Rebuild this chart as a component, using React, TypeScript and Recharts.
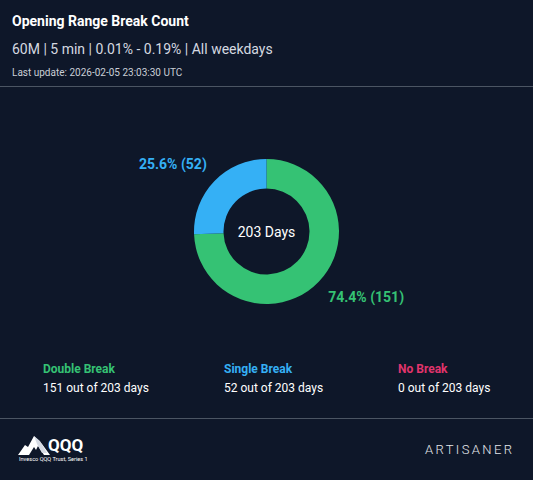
import { Cell, Pie, PieChart } from "recharts";

const categories = ["Double Break", "Single Break", "No Break"];
const dayCounts = [151, 52, 0];
const sliceColors = ["#35c274", "#35b0f5", "#e0346c"];
const totalDays = 203;

const subtitle = "60M | 5 min | 0.01% - 0.19% | All weekdays";
const lastUpdate = "Last update: 2026-02-05 23:03:30 UTC";

const BG = "#0e1729";
const FONT = "Roboto, 'Noto Sans', sans-serif";

const pieData = categories
  .map((name, i) => ({ name, value: dayCounts[i], color: sliceColors[i] }))
  .filter((d) => d.value > 0);

// labels sit a bit tighter to the ring than the recharts default
function renderLabel(props: any) {
  const { x, y, textAnchor, percent, value, payload } = props;
  const isEnd = textAnchor === "end";
  return (
    <text
      x={isEnd ? x + 7 : x - 5}
      y={isEnd ? y - 3 : y + 1}
      textAnchor={textAnchor}
      dominantBaseline="central"
      fill={payload.color}
      fontSize={14}
      fontWeight={700}
      fontFamily={FONT}
    >
      {`${(percent * 100).toFixed(1)}% (${value})`}
    </text>
  );
}

function QqqLogo() {
  return (
    <svg width={90} height={36} style={{ position: "absolute", left: 17, top: 431 }}>
      <polygon points="1,24 8,14 11,16 17,5 25,13 33,24 27,24 21,15 19,19 17,16 12,24" fill="#ffffff" />
      <polygon points="17,5 23,10 30,22 25,22 20,13" fill="#d6dbe4" />
      <text x={31} y={20} fill="#ffffff" fontSize={17} fontWeight={700} fontFamily={FONT}>
        QQQ
      </text>
      <text x={2} y={30} fill="#ffffff" fontSize={5.6} fontFamily={FONT}>
        Invesco QQQ Trust, Series 1
      </text>
    </svg>
  );
}

export default function App() {
  return (
    <div
      style={{
        position: "fixed",
        left: 0,
        top: 0,
        width: 533,
        height: 480,
        background: BG,
        fontFamily: FONT,
        color: "#ffffff",
        overflow: "hidden",
      }}
    >
      <div style={{ position: "absolute", left: 12, top: 13, fontSize: 14, fontWeight: 700 }}>
        Opening Range Break Count
      </div>
      <div style={{ position: "absolute", left: 12, top: 41, fontSize: 14, color: "#d5d9e0" }}>
        {subtitle}
      </div>
      <div style={{ position: "absolute", left: 12, top: 67, fontSize: 10, color: "#c9ced6" }}>
        {lastUpdate}
      </div>
      <div style={{ position: "absolute", left: 0, top: 86, width: 533, height: 1, background: "#4b5563" }} />

      <div style={{ position: "absolute", left: 0, top: 100 }}>
        <PieChart width={533} height={260} margin={{ top: 0, right: 0, bottom: 0, left: 0 }}>
          <Pie
            data={pieData}
            dataKey="value"
            nameKey="name"
            cx={266.5}
            cy={131.5}
            innerRadius={43}
            outerRadius={72.5}
            startAngle={90}
            endAngle={-270}
            stroke="none"
            label={renderLabel}
            labelLine={false}
            isAnimationActive={false}
          >
            {pieData.map((d) => (
              <Cell key={d.name} fill={d.color} />
            ))}
          </Pie>
          <text
            x={266.5}
            y={131.5}
            textAnchor="middle"
            dominantBaseline="central"
            fill="#ffffff"
            fontSize={14}
            fontFamily={FONT}
          >
            {`${totalDays} Days`}
          </text>
        </PieChart>
      </div>

      {categories.map((name, i) => (
        <div key={name} style={{ position: "absolute", left: [43, 224, 398][i], top: 362 }}>
          <div style={{ fontSize: 12, fontWeight: 700, color: sliceColors[i] }}>{name}</div>
          <div style={{ fontSize: 12, marginTop: 5, color: "#ffffff" }}>
            {`${dayCounts[i]} out of ${totalDays} days`}
          </div>
        </div>
      ))}

      <div style={{ position: "absolute", left: 0, top: 418, width: 533, height: 1, background: "#4b5563" }} />
      <QqqLogo />
      <div
        style={{
          position: "absolute",
          left: 425,
          top: 442,
          fontSize: 13,
          letterSpacing: 2.4,
          color: "#e5e7eb",
          fontWeight: 300,
        }}
      >
        ARTISANER
      </div>
    </div>
  );
}
